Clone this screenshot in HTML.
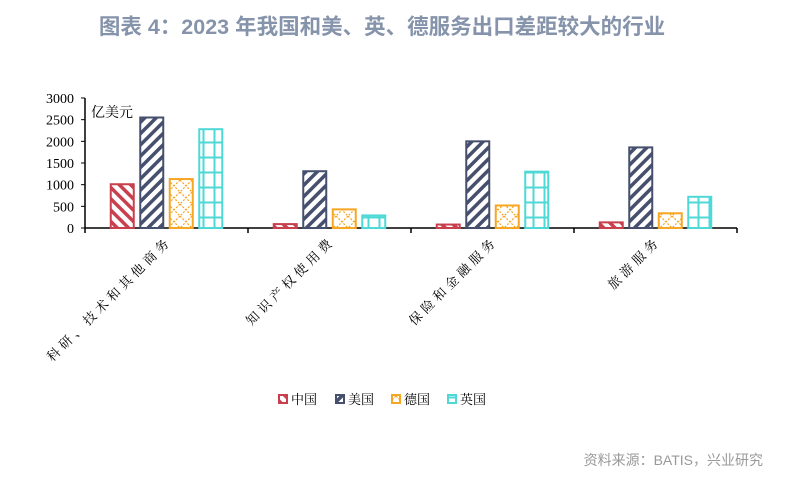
<!DOCTYPE html>
<html><head><meta charset="utf-8"><style>
html,body{margin:0;padding:0;background:#fff;}
body{width:801px;height:478px;overflow:hidden;font-family:"Liberation Sans","Noto Sans CJK SC",sans-serif;}
</style></head><body>
<svg width="801" height="478" xmlns="http://www.w3.org/2000/svg">
<defs>
<pattern id="p-cn" patternUnits="userSpaceOnUse" width="8" height="8" patternTransform="rotate(-45)"><rect width="8" height="8" fill="#fff"/><rect width="3.5" height="8" fill="#c8404e"/></pattern>
<pattern id="p-us" patternUnits="userSpaceOnUse" width="8" height="8" patternTransform="rotate(45)"><rect width="8" height="8" fill="#fff"/><rect width="3.5" height="8" fill="#46506e"/></pattern>
<pattern id="p-de" patternUnits="userSpaceOnUse" width="12" height="12"><rect width="12" height="12" fill="#fff"/><path d="M0 0L12 12M12 0L0 12" stroke="#f5a623" stroke-width="1.2" stroke-dasharray="2 1.5"/></pattern>
<pattern id="p-uk" patternUnits="userSpaceOnUse" width="11" height="15"><rect width="11" height="15" fill="#fff"/><path d="M5.5 0V15M0 7.5H11" stroke="#4fd9d6" stroke-width="2"/></pattern>
</defs>
<text x="382" y="34" text-anchor="middle" font-size="21.5" font-weight="bold" fill="#8593ab">图表 4：2023 年我国和美、英、德服务出口差距较大的行业</text>
<text x="91" y="117" font-size="14" font-family="'Liberation Serif','Noto Serif CJK SC',serif" fill="#000">亿美元</text>
<g id="axes"></g>
<g id="bars"></g>
<g id="legend"></g>
<text x="763" y="465" text-anchor="end" font-size="14" fill="#999">资料来源：BATIS，兴业研究</text>
</svg>
<script>
const categories=["科研、技术和其他商务","知识产权使用费","保险和金融服务","旅游服务"];
const seriesNames=["中国","美国","德国","英国"];
const cnValues=[1010,90,80,130];
const usValues=[2550,1310,2000,1860];
const deValues=[1130,430,520,340];
const ukValues=[2280,290,1300,720];
const yTicks=[0,500,1000,1500,2000,2500,3000];
const tickLabels=["0","500","1000","1500","2000","2500","3000"];

const NS="http://www.w3.org/2000/svg";
const x0=85,x1=737,y0=228,yTop=98,yMax=3000;
const bw=(x1-x0)/categories.length;
const y=v=>y0-(v/yMax)*(y0-yTop);
const catX=i=>x0+bw*i;
function mk(tag,attrs,parent){const e=document.createElementNS(NS,tag);for(const k in attrs)e.setAttribute(k,attrs[k]);parent.appendChild(e);return e;}
const axes=document.getElementById('axes'),bars=document.getElementById('bars'),legend=document.getElementById('legend');
let l=mk('line',{x1:x0,y1:y(yMax),x2:x0,y2:y0,stroke:'#000','stroke-width':1.5},axes);


l=mk('line',{x1:x0,y1:y0,x2:x1,y2:y0,stroke:'#000','stroke-width':1.5},axes);


yTicks.forEach((v,i)=>{
  mk('line',{x1:x0-4,y1:y(v),x2:x0,y2:y(v),stroke:'#000'},axes);
  const t=mk('text',{x:x0-11,y:y(v)+5,'text-anchor':'end','font-size':14,'font-family':"'Liberation Serif',serif"},axes);
  t.textContent=tickLabels[i];
  
  
});
for(let i=0;i<=categories.length;i++){mk('line',{x1:catX(i),y1:y0,x2:catX(i),y2:y0+5,stroke:'#000','stroke-width':1.5},axes);}
categories.forEach((c,i)=>{
  const cx=catX(i)+bw/2+6, cy=y0+14;
  const t=mk('text',{x:cx,y:cy,'text-anchor':'end','font-size':13,'font-family':"'Liberation Serif','Noto Serif CJK SC',serif",transform:`rotate(-45 ${cx} ${cy})`,'letter-spacing':'4'},axes);
  t.textContent=c;
  
  
});
const all=[cnValues,usValues,deValues,ukValues];
const fills=['url(#p-cn)','url(#p-us)','url(#p-de)','url(#p-uk)'];
const strokes=['#c8404e','#46506e','#f5a623','#4fd9d6'];
const keys=['cn','us','de','uk'];
const barW=23,step=29.5;
categories.forEach((c,i)=>{
  all.forEach((vals,s)=>{
    const bx=catX(i)+bw/2-2*step+s*step+(step-barW)/2;
    const r=mk('rect',{x:bx,y:y(vals[i]),width:barW,height:y0-y(vals[i]),fill:fills[s],stroke:strokes[s],'stroke-width':2},bars);
    
    
  });
});
const lx=[279,336,392,448];
seriesNames.forEach((n,s)=>{
  const r=mk('rect',{x:lx[s],y:395,width:8,height:8,fill:fills[s],stroke:strokes[s],'stroke-width':2},legend);
  
  
  const t=mk('text',{x:lx[s]+12,y:404,'font-size':13,'font-family':"'Liberation Serif','Noto Serif CJK SC',serif"},legend);
  t.textContent=n;
  
  
});
</script>
</body></html>
